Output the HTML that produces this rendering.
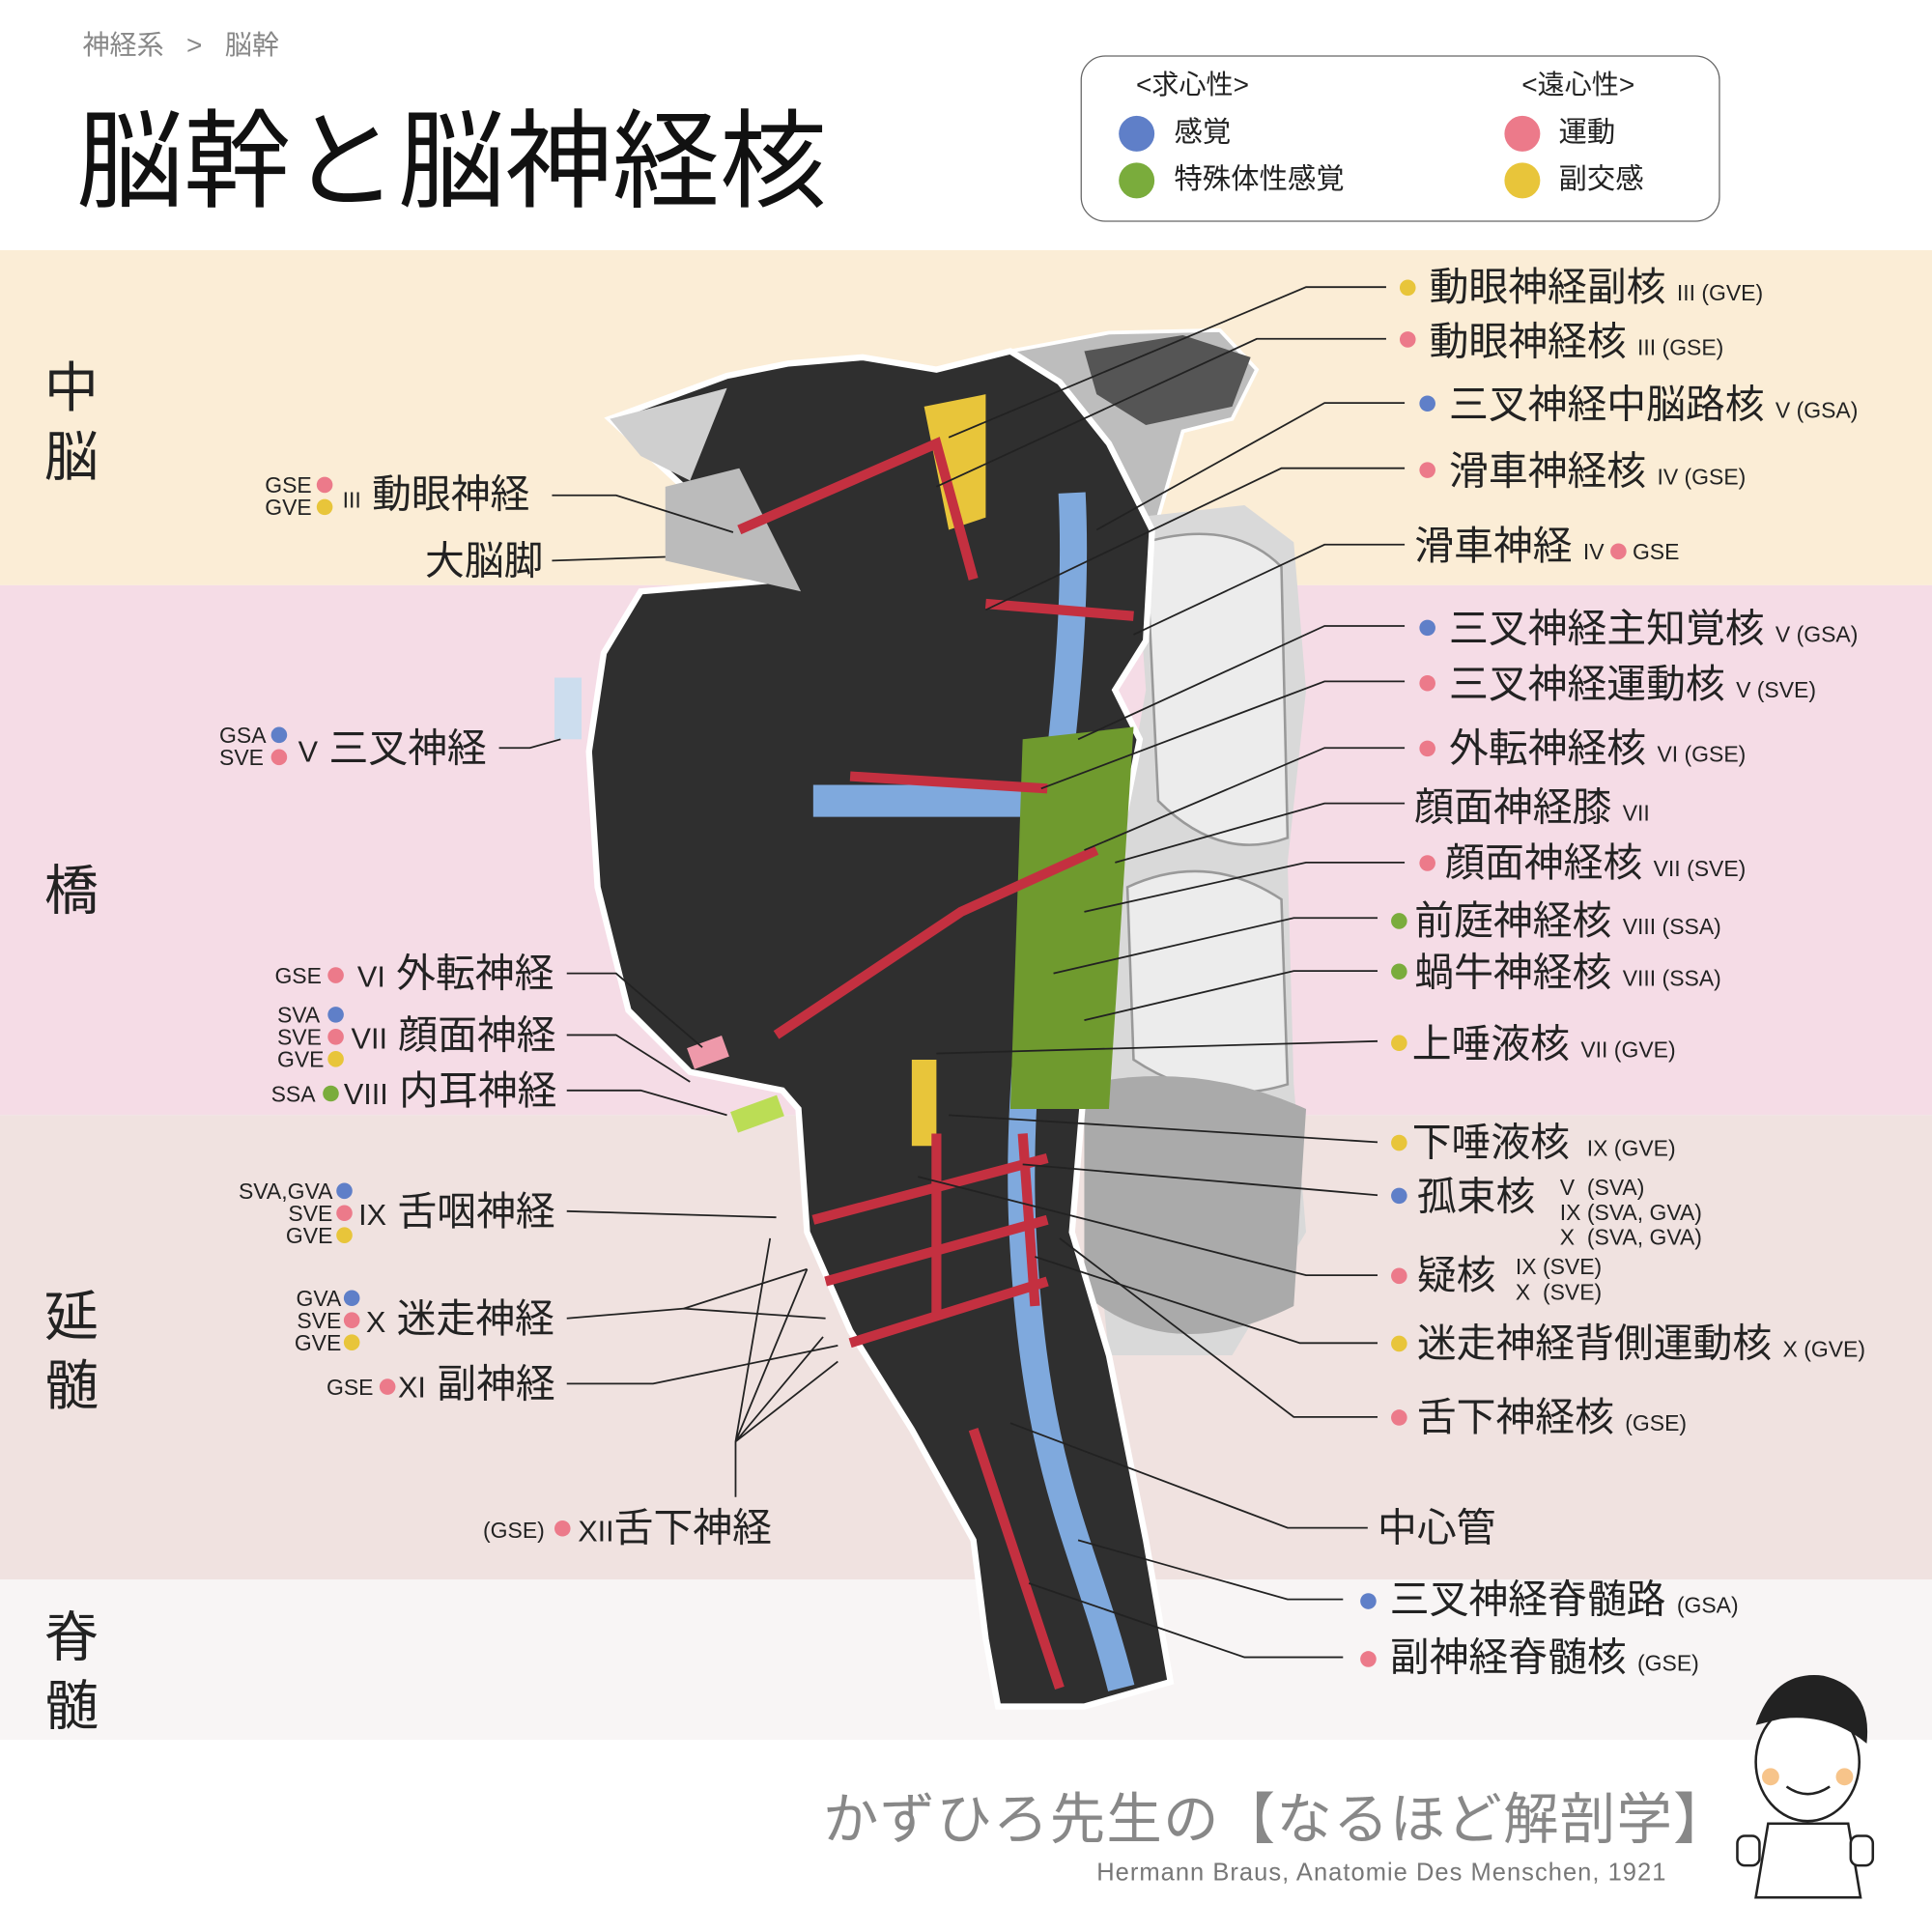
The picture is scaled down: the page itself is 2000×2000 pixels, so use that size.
<!DOCTYPE html>
<html><head><meta charset="utf-8"><style>
html,body{margin:0;padding:0;width:2000px;height:2000px;overflow:hidden;background:#fff}
#w{position:absolute;left:0;top:0;width:1568px;height:1568px;transform:scale(1.27551);transform-origin:0 0;font-family:"Liberation Sans","Noto Sans CJK JP",sans-serif;color:#222}
.a{position:absolute;white-space:nowrap;line-height:1}
.d{position:absolute;width:13px;height:13px;border-radius:50%}
.b{background:#5f7fc8}.g{background:#7aac3c}.r{background:#ec7a8a}.y{background:#e8c53a}
.L{font-size:32px}.s{font-size:18px}
.side{position:absolute;left:36px;font-size:44px;line-height:56px;width:50px}
</style></head><body><div id="w">
<div style="position:absolute;left:0;top:203px;width:1568px;height:272px;background:#fbedd6"></div>
<div style="position:absolute;left:0;top:475px;width:1568px;height:430px;background:#f5dce6"></div>
<div style="position:absolute;left:0;top:905px;width:1568px;height:377px;background:#f0e2e0"></div>
<div style="position:absolute;left:0;top:1282px;width:1568px;height:130px;background:#f8f5f5"></div>

<div class="a" style="left:67px;top:26px;font-size:22px;color:#888">神経系 &nbsp;&nbsp;&gt;&nbsp;&nbsp; 脳幹</div>
<div class="a" style="left:62px;top:88px;font-size:87px;color:#111">脳幹と脳神経核</div>

<div style="position:absolute;left:877px;top:45px;width:517px;height:133px;border:1px solid #666;border-radius:20px"></div>
<div class="a" style="left:922px;top:58px;font-size:22px">&lt;求心性&gt;</div>
<div class="a" style="left:1235px;top:58px;font-size:22px">&lt;遠心性&gt;</div>
<div class="d b" style="left:908px;top:94px;width:29px;height:29px"></div>
<div class="d g" style="left:908px;top:132px;width:29px;height:29px"></div>
<div class="d r" style="left:1221px;top:94px;width:29px;height:29px"></div>
<div class="d y" style="left:1221px;top:132px;width:29px;height:29px"></div>
<div class="a" style="left:953px;top:96px;font-size:23px">感覚</div>
<div class="a" style="left:953px;top:134px;font-size:23px">特殊体性感覚</div>
<div class="a" style="left:1265px;top:96px;font-size:23px">運動</div>
<div class="a" style="left:1265px;top:134px;font-size:23px">副交感</div>

<div class="side" style="top:288px">中<br>脳</div>
<div class="side" style="top:696px">橋</div>
<div class="side" style="top:1042px">延<br>髄</div>
<div class="side" style="top:1302px">脊<br>髄</div>

<svg style="position:absolute;left:0;top:0" width="1568" height="1568">
<path d="M820,285 L900,270 L990,268 L1020,300 L1000,340 L960,350 L940,420 L900,470 L860,400 Z" fill="#bdbdbd" stroke="#fff" stroke-width="3"/>
<path d="M880,285 L960,272 L1015,290 L1000,330 L930,345 L890,320Z" fill="#555"/>
<path d="M920,420 L1010,410 L1050,440 L1060,560 L1045,700 L1050,880 L1060,1000 L1000,1100 L900,1100 L880,900 L905,700 L930,560Z" fill="#d9d9d9"/>
<path d="M930,440 Q1000,420 1040,460 L1045,680 Q990,700 940,650 Z" fill="#ececec" stroke="#999" stroke-width="2"/>
<path d="M915,720 Q980,690 1040,730 L1045,880 Q980,900 920,860 Z" fill="#ececec" stroke="#999" stroke-width="2"/>
<path d="M880,880 Q970,860 1060,900 L1050,1060 Q950,1110 880,1050Z" fill="#aaa"/>
<path d="M495,340 L590,305 L640,295 L700,290 L760,300 L820,285 L860,310 L900,360 L935,430 L930,520 L905,560 L925,600 L905,700 L880,880 L870,1000 L900,1100 L930,1250 L950,1365 L880,1385 L810,1385 L800,1330 L790,1250 L740,1160 L690,1080 L655,1000 L648,900 L635,885 L560,870 L510,820 L485,720 L478,610 L490,530 L520,480 L640,470 L560,400 Z" fill="#2f2f2f" stroke="#fff" stroke-width="5"/>
<path d="M495,340 L590,315 L560,390 L520,370Z" fill="#cfcfcf"/>
<path d="M540,395 L600,380 L650,480 L540,455Z" fill="#bbb"/>
<path d="M870,400 C880,600 820,800 830,1000 S880,1250 910,1370" stroke="#7fa9dd" stroke-width="22" fill="none"/>
<path d="M660,650 L860,650" stroke="#7fa9dd" stroke-width="26"/>
<path d="M830,600 L920,590 L900,900 L820,900 Z" fill="#6f9a2e"/>
<path d="M750,330 L800,320 L800,420 L770,430Z" fill="#e8c53a"/>
<path d="M740,860 L760,860 L760,930 L740,930Z" fill="#e8c53a"/>
<g stroke="#c43040" stroke-width="8" fill="none">
<path d="M600,430 L760,360 L790,470"/><path d="M800,490 L920,500"/><path d="M690,630 L850,640"/>
<path d="M630,840 L780,740 L890,690"/><path d="M760,920 L760,1070"/><path d="M830,920 L840,1060"/>
<path d="M660,990 L850,940"/><path d="M670,1040 L850,990"/><path d="M690,1090 L850,1040"/>
<path d="M790,1160 L860,1370"/>
</g>
<rect x="450" y="550" width="22" height="50" fill="#cde"/>
<rect x="560" y="845" width="30" height="18" fill="#e9a" transform="rotate(-20 575 855)"/>
<rect x="595" y="895" width="40" height="18" fill="#bd5" transform="rotate(-20 615 905)"/>
<g stroke="#222" stroke-width="1.4" fill="none">
<path d="M1125,233 L1060,233 L770,355"/><path d="M1125,275 L1020,275 L760,395"/>
<path d="M1140,327 L1075,327 L890,430"/><path d="M1140,380 L1040,380 L800,495"/>
<path d="M1140,442 L1075,442 L920,515"/><path d="M1140,508 L1075,508 L875,600"/>
<path d="M1140,553 L1075,553 L845,640"/><path d="M1140,607 L1075,607 L880,690"/>
<path d="M1140,652 L1075,652 L905,700"/><path d="M1140,700 L1060,700 L880,740"/>
<path d="M1118,745 L1050,745 L855,790"/><path d="M1118,788 L1050,788 L880,828"/>
<path d="M1118,845 L760,855"/><path d="M1118,927 L770,905"/><path d="M1118,970 L830,945"/>
<path d="M1118,1035 L1060,1035 L745,955"/><path d="M1118,1090 L1055,1090 L840,1020"/>
<path d="M1118,1150 L1050,1150 L860,1005"/><path d="M1110,1240 L1045,1240 L820,1155"/>
<path d="M1090,1298 L1045,1298 L875,1250"/><path d="M1090,1345 L1010,1345 L835,1285"/>
<path d="M448,402 L500,402 L595,432"/><path d="M448,455 L540,452"/>
<path d="M405,607 L430,607 L455,600"/><path d="M460,790 L500,790 L570,850"/>
<path d="M460,840 L500,840 L560,878"/><path d="M460,885 L520,885 L590,905"/>
<path d="M460,983 L630,988"/><path d="M460,1070 L555,1062 L670,1070"/><path d="M555,1062 L655,1030"/>
<path d="M460,1123 L530,1123 L680,1092"/>
<path d="M597,1215 L597,1170 L625,1005 M597,1170 L655,1030 M597,1170 L668,1085 M597,1170 L680,1105"/>
</g>
</svg>

<!-- right labels -->
<div class="d y" style="left:1136px;top:227px"></div><div class="a L" style="left:1160px;top:217px">動眼神経副核 <span class="s">III (GVE)</span></div>
<div class="d r" style="left:1136px;top:269px"></div><div class="a L" style="left:1160px;top:261px">動眼神経核 <span class="s">III (GSE)</span></div>
<div class="d b" style="left:1152px;top:321px"></div><div class="a L" style="left:1176px;top:312px">三叉神経中脳路核 <span class="s">V (GSA)</span></div>
<div class="d r" style="left:1152px;top:375px"></div><div class="a L" style="left:1176px;top:366px">滑車神経核 <span class="s">IV (GSE)</span></div>
<div class="a L" style="left:1148px;top:427px">滑車神経 <span class="s">IV <span style="display:inline-block;width:13px;height:13px;border-radius:50%;background:#ec7a8a"></span> GSE</span></div>
<div class="d b" style="left:1152px;top:503px"></div><div class="a L" style="left:1176px;top:494px">三叉神経主知覚核 <span class="s">V (GSA)</span></div>
<div class="d r" style="left:1152px;top:548px"></div><div class="a L" style="left:1176px;top:539px">三叉神経運動核 <span class="s">V (SVE)</span></div>
<div class="d r" style="left:1152px;top:601px"></div><div class="a L" style="left:1176px;top:591px">外転神経核 <span class="s">VI (GSE)</span></div>
<div class="a L" style="left:1148px;top:639px">顔面神経膝 <span class="s">VII</span></div>
<div class="d r" style="left:1152px;top:694px"></div><div class="a L" style="left:1173px;top:684px">顔面神経核 <span class="s">VII (SVE)</span></div>
<div class="d g" style="left:1129px;top:741px"></div><div class="a L" style="left:1148px;top:731px">前庭神経核 <span class="s">VIII (SSA)</span></div>
<div class="d g" style="left:1129px;top:782px"></div><div class="a L" style="left:1148px;top:773px">蝸牛神経核 <span class="s">VIII (SSA)</span></div>
<div class="d y" style="left:1129px;top:840px"></div><div class="a L" style="left:1146px;top:831px">上唾液核 <span class="s">VII (GVE)</span></div>
<div class="d y" style="left:1129px;top:921px"></div><div class="a L" style="left:1146px;top:911px">下唾液核 <span class="s">&nbsp;IX (GVE)</span></div>
<div class="d b" style="left:1129px;top:964px"></div><div class="a L" style="left:1150px;top:955px">孤束核</div>
<div class="a s" style="left:1266px;top:954px;line-height:20px">V&nbsp; (SVA)<br>IX (SVA, GVA)<br>X&nbsp; (SVA, GVA)</div>
<div class="d r" style="left:1129px;top:1029px"></div><div class="a L" style="left:1150px;top:1019px">疑核</div>
<div class="a s" style="left:1230px;top:1018px;line-height:21px">IX (SVE)<br>X&nbsp; (SVE)</div>
<div class="d y" style="left:1129px;top:1084px"></div><div class="a L" style="left:1150px;top:1074px">迷走神経背側運動核 <span class="s">X (GVE)</span></div>
<div class="d r" style="left:1129px;top:1144px"></div><div class="a L" style="left:1150px;top:1134px">舌下神経核 <span class="s">(GSE)</span></div>
<div class="a L" style="left:1118px;top:1224px">中心管</div>
<div class="d b" style="left:1104px;top:1293px"></div><div class="a L" style="left:1128px;top:1282px">三叉神経脊髄路 <span class="s">(GSA)</span></div>
<div class="d r" style="left:1104px;top:1340px"></div><div class="a L" style="left:1128px;top:1329px">副神経脊髄核 <span class="s">(GSE)</span></div>

<!-- left labels -->
<div class="a s" style="left:215px;top:385px;line-height:18px;text-align:right">GSE<br>GVE</div>
<div class="d r" style="left:257px;top:387px"></div><div class="d y" style="left:257px;top:405px"></div>
<div class="a L" style="left:278px;top:385px"><span class="s">III</span> 動眼神経</div>
<div class="a L" style="left:345px;top:439px">大脳脚</div>
<div class="a s" style="left:178px;top:588px;line-height:18px">GSA<br>SVE</div>
<div class="d b" style="left:220px;top:590px"></div><div class="d r" style="left:220px;top:608px"></div>
<div class="a L" style="left:242px;top:591px"><span style="font-size:24px">V</span> 三叉神経</div>
<div class="a s" style="left:223px;top:783px">GSE</div><div class="d r" style="left:266px;top:785px"></div>
<div class="a L" style="left:290px;top:774px"><span style="font-size:24px">VI</span> 外転神経</div>
<div class="a s" style="left:225px;top:815px;line-height:18px">SVA<br>SVE<br>GVE</div>
<div class="d b" style="left:266px;top:817px"></div><div class="d r" style="left:266px;top:835px"></div><div class="d y" style="left:266px;top:853px"></div>
<div class="a L" style="left:285px;top:824px"><span style="font-size:24px">VII</span> 顔面神経</div>
<div class="a s" style="left:220px;top:879px">SSA</div><div class="d g" style="left:262px;top:881px"></div>
<div class="a L" style="left:279px;top:869px"><span style="font-size:24px">VIII</span> 内耳神経</div>
<div class="a s" style="left:188px;top:958px;line-height:18px;text-align:right;width:82px">SVA,GVA<br>SVE<br>GVE</div>
<div class="d b" style="left:273px;top:960px"></div><div class="d r" style="left:273px;top:978px"></div><div class="d y" style="left:273px;top:996px"></div>
<div class="a L" style="left:291px;top:967px"><span style="font-size:24px">IX</span> 舌咽神経</div>
<div class="a s" style="left:237px;top:1045px;line-height:18px;text-align:right;width:40px">GVA<br>SVE<br>GVE</div>
<div class="d b" style="left:279px;top:1047px"></div><div class="d r" style="left:279px;top:1065px"></div><div class="d y" style="left:279px;top:1083px"></div>
<div class="a L" style="left:297px;top:1054px"><span style="font-size:24px">X</span> 迷走神経</div>
<div class="a s" style="left:265px;top:1117px">GSE</div><div class="d r" style="left:308px;top:1119px"></div>
<div class="a L" style="left:323px;top:1107px"><span style="font-size:24px">XI</span> 副神経</div>
<div class="a s" style="left:392px;top:1233px">(GSE)</div><div class="d r" style="left:450px;top:1234px"></div>
<div class="a L" style="left:469px;top:1224px"><span style="font-size:24px">XII</span>舌下神経</div>

<div class="a" style="left:668px;top:1454px;font-size:45px;color:#888;letter-spacing:1px">かずひろ先生の【なるほど解剖学】</div>
<div class="a" style="left:890px;top:1510px;font-size:20px;color:#777;letter-spacing:0.8px">Hermann Braus, Anatomie Des Menschen, 1921</div>
<svg style="position:absolute;left:1405px;top:1350px" width="120" height="200">
<ellipse cx="62" cy="80" rx="42" ry="48" fill="#fff" stroke="#222" stroke-width="2"/>
<path d="M20,50 Q35,5 75,10 Q115,20 110,65 Q80,40 40,45 Z" fill="#222"/>
<circle cx="32" cy="92" r="7" fill="#f7c48a"/><circle cx="92" cy="92" r="7" fill="#f7c48a"/>
<path d="M45,100 Q62,112 80,100" stroke="#222" stroke-width="2" fill="none"/>
<path d="M30,130 L20,190 L105,190 L95,130Z" fill="#fff" stroke="#222" stroke-width="2"/>
<rect x="5" y="140" width="18" height="24" rx="6" fill="#fff" stroke="#222" stroke-width="2"/>
<rect x="97" y="140" width="18" height="24" rx="6" fill="#fff" stroke="#222" stroke-width="2"/>
</svg>
</div></body></html>
